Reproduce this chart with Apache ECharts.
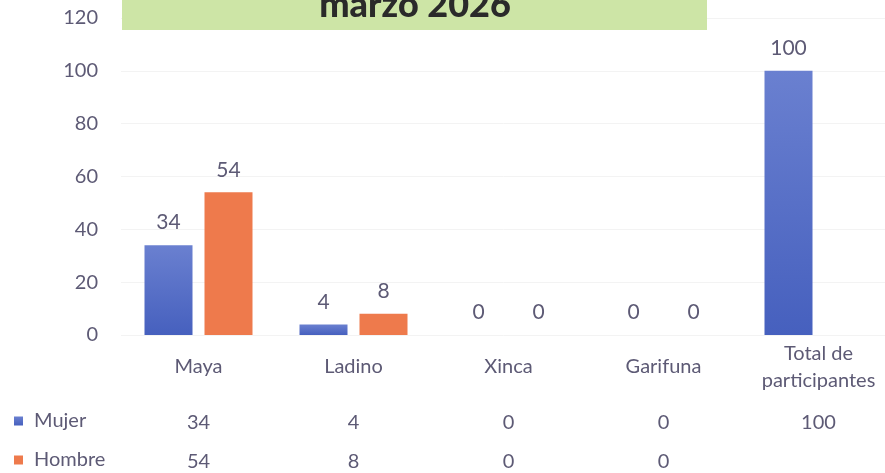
<!DOCTYPE html>
<html>
<head>
<meta charset="utf-8">
<script src="https://cdn.jsdelivr.net/npm/echarts@6/dist/echarts.min.js"></script>
<style>
  html, body { margin: 0; padding: 0; background: #fff; }
  #chart { width: 885px; height: 473px; }
</style>
</head>
<body>
<div id="chart"></div>
<script>
// datos
var categorias = ['Maya', 'Ladino', 'Xinca', 'Garifuna', 'Total de\nparticipantes'];
var mujer = [34, 4, 0, 0, 100];
var hombre = [54, 8, 0, 0, null];
var yTicks = [0, 20, 40, 60, 80, 100, 120];
var titulo = 'marzo 2026';

var fuente = 'Lato';
var gris = '#5d5a75';

// filas de la tabla de datos (como etiquetas de ejes extra)
function fila(vals) {
    return vals.map(function (v) { return v === null ? '' : String(v); });
}

function ejeTabla(vals, offset) {
    return {
        type: 'category',
        position: 'bottom',
        offset: offset,
        data: fila(vals),
        axisLine: { show: false },
        axisTick: { show: false },
        splitLine: { show: false },
        axisLabel: {
            interval: 0, margin: 32, verticalAlign: 'middle',
            color: gris, fontFamily: fuente, fontSize: 20
        }
    };
}

var chart = echarts.init(document.getElementById('chart'));
chart.setOption({
    backgroundColor: '#fff',
    animation: false,
    grid: { left: 121, top: 18, width: 775, height: 317, outerBoundsMode: 'none', containLabel: false },
    legend: {
        orient: 'vertical',
        left: 14,
        top: 411,
        padding: 0,
        icon: 'rect',
        itemWidth: 9,
        itemHeight: 9,
        itemGap: 19,
        textStyle: { color: gris, fontFamily: fuente, fontSize: 20, lineHeight: 20, padding: [0, 0, 0, 6] },
        data: ['Mujer', 'Hombre']
    },
    xAxis: [{
        type: 'category',
        data: categorias,
        axisLine: { show: false },
        axisTick: { show: false },
        axisLabel: {
            interval: 0, margin: 32, verticalAlign: 'middle', lineHeight: 27,
            color: gris, fontFamily: fuente, fontSize: 20
        }
    },
    ejeTabla(mujer, 56),
    ejeTabla(hombre, 95)],
    yAxis: {
        type: 'value',
        min: yTicks[0],
        max: yTicks[yTicks.length - 1],
        interval: 20,
        axisLine: { show: false },
        axisTick: { show: false },
        splitLine: { lineStyle: { color: '#f3f3f3' } },
        axisLabel: { margin: 23, color: gris, fontFamily: fuente, fontSize: 20 }
    },
    series: [{
        name: 'Mujer',
        type: 'bar',
        data: mujer,
        barWidth: 48,
        barGap: '25%',
        itemStyle: {
            color: new echarts.graphic.LinearGradient(0, 0, 0, 1, [
                { offset: 0, color: '#6a80d0' },
                { offset: 1, color: '#4660be' }
            ])
        },
        label: { show: true, position: 'top', distance: 12, color: gris, fontFamily: fuente, fontSize: 21 }
    }, {
        name: 'Hombre',
        type: 'bar',
        data: hombre,
        barWidth: 48,
        itemStyle: { color: '#ee7a4c' },
        label: { show: true, position: 'top', distance: 12, color: gris, fontFamily: fuente, fontSize: 21 }
    }],
    graphic: [{
        type: 'rect',
        shape: { x: 122, y: -10, width: 585, height: 40 },
        style: { fill: '#cde5a6' },
        z: 10
    }, {
        type: 'text',
        x: 415,
        y: 23,
        style: {
            text: titulo,
            fill: '#2a2a2a',
            font: '900 36px Lato',
            textAlign: 'center',
            textVerticalAlign: 'bottom'
        },
        z: 11
    }]
});
</script>
</body>
</html>
